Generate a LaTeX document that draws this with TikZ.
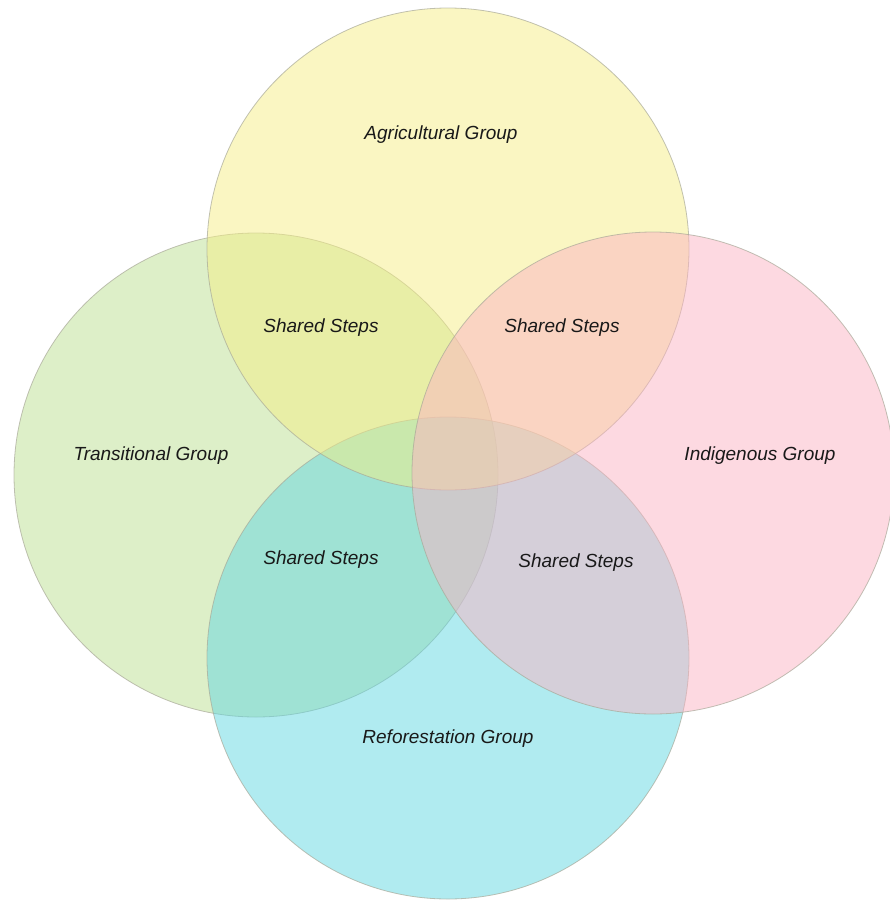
\documentclass[tikz,border=0pt]{standalone}
\usepackage{fontspec}
\setmainfont{Liberation Sans}
\usepackage{xcolor}
\definecolor{agri}{HTML}{F5EE85}
\definecolor{trans}{HTML}{BBDF91}
\definecolor{indig}{HTML}{FBB3C3}
\definecolor{refor}{HTML}{61D7E1}
\definecolor{rim}{HTML}{A8A898}
\tikzset{
  group/.style={circle,draw=rim,line width=0.8pt,fill opacity=0.5,draw opacity=0.7,inner sep=0pt},
  lbl/.style={font=\fontsize{19}{23}\selectfont\itshape,text=black!90}
}
\begin{document}
\begin{tikzpicture}[x=1pt,y=-1pt]
    \useasboundingbox (0,0) rectangle (890,900);
    \node[group,fill=trans,minimum size=484pt](v2)at(256,475){};
    \node[group,fill=refor,minimum size=482pt](v4)at(448,658){};
    \node[group,fill=agri,minimum size=482pt](v1)at(448,249){};
    \node[group,fill=indig,minimum size=482pt](v3)at(653,473){};
    \node[lbl](l1)at(441,135){Agricultural Group};
    \node[lbl](l2)at(151,456){Transitional Group};
    \node[lbl](l3)at(760,456){Indigenous Group};
    \node[lbl](l4)at(448,739){Reforestation Group};
    \node[lbl](s1)at(321,328){Shared Steps};
    \node[lbl](s2)at(562,328){Shared Steps};
    \node[lbl](s3)at(321,560){Shared Steps};
    \node[lbl](s4)at(576,563){Shared Steps};
\end{tikzpicture}
\end{document}
